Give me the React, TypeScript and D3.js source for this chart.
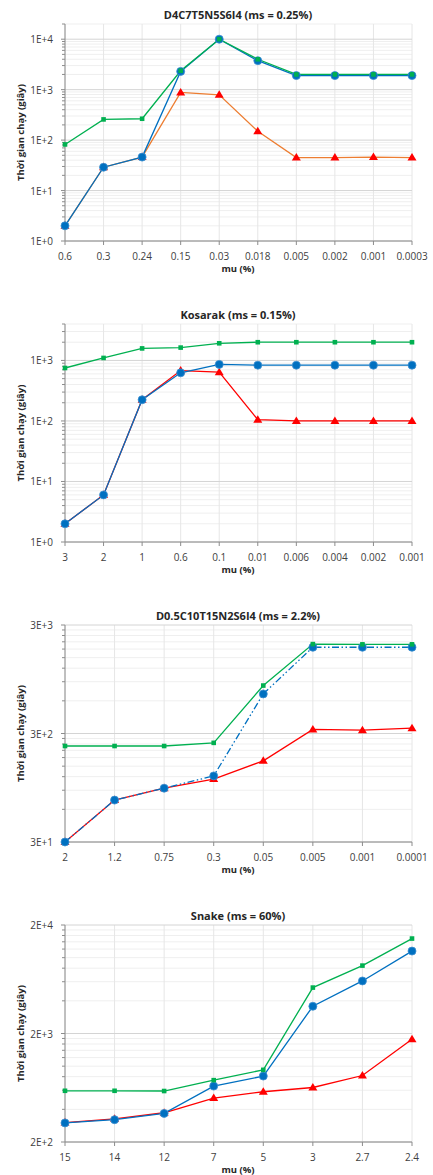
import * as d3 from "d3";
import React from "react";

const cats1 = ["0.6", "0.3", "0.24", "0.15", "0.03", "0.018", "0.005", "0.002", "0.001", "0.0003"];
const blue1 = [2, 29, 46, 2300, 10000, 3750, 1900, 1900, 1900, 1900];
const green1 = [82, 257, 265, 2370, 10000, 4000, 2000, 2000, 2000, 2000];
const red1 = [2, 29, 46, 880, 790, 150, 45, 45, 46, 45];

const cats2 = ["3", "2", "1", "0.6", "0.1", "0.01", "0.006", "0.004", "0.002", "0.001"];
const green2 = [750, 1100, 1580, 1630, 1920, 2000, 2000, 2000, 2000, 2000];
const blue2 = [2, 6, 224, 624, 860, 835, 835, 835, 835, 835];
const red2 = [2, 6, 224, 680, 640, 105, 100, 100, 100, 100];

const cats3 = ["2", "1.2", "0.75", "0.3", "0.05", "0.005", "0.001", "0.0001"];
const green3 = [230, 230, 230, 246, 830, 2000, 1990, 1990];
const blue3 = [30, 73, 94, 122, 695, 1870, 1870, 1870];
const red3 = [30, 73, 94, 114, 168, 327, 322, 336];

const cats4 = ["15", "14", "12", "7", "5", "3", "2.7", "2.4"];
const green4 = [593, 593, 590, 743, 925, 5300, 8450, 15000];
const blue4 = [300, 321, 367, 655, 810, 3565, 6100, 11500];
const red4 = [302, 327, 372, 508, 581, 636, 820, 1770];

const FONT = "'Open Sans', 'DejaVu Sans', sans-serif";
const BLUE = "#0070C0";
const GREEN = "#00B050";
const RED = "#FF0000";

interface PanelProps {
  title: string;
  top: number; // plot top
  bottom: number; // plot bottom
  cats: string[];
  domain: [number, number];
  majors: number[];
  majorLabels: string[];
  blue: number[];
  green: number[];
  red: number[];
  redLine: string;
  blueDash?: string;
}

const left = 65;
const right = 412;

const Panel: React.FC<PanelProps> = (p) => {
  const x = d3.scalePoint<string>().domain(p.cats).range([left, right]);
  const y = d3.scaleLog().domain(p.domain).range([p.bottom, p.top]);

  // minor gridlines at base * 2..9
  const minors: number[] = [];
  p.majors.forEach((m) => {
    for (let k = 2; k <= 9; k++) {
      const v = m * k;
      if (v <= p.domain[1] * 1.0001) minors.push(v);
    }
  });

  const line = d3
    .line<number>()
    .x((_, i) => x(p.cats[i])!)
    .y((d) => y(d));

  const mid = (p.top + p.bottom) / 2;
  const tri = (cx: number, cy: number) => `M${cx},${cy - 4.5}L${cx + 4.5},${cy + 3}L${cx - 4.5},${cy + 3}Z`;

  return (
    <g>
      <text x={238} y={p.top - 10} textAnchor="middle" dominantBaseline="central" fontFamily={FONT} fontSize={11} fontWeight="bold" fill="#262626">
        {p.title}
      </text>
      {/* minor gridlines */}
      {minors.map((v) => (
        <line key={"mi" + v} x1={left} x2={right} y1={y(v)} y2={y(v)} stroke="#efefef" strokeWidth={1} />
      ))}
      {/* vertical gridlines */}
      {p.cats.map((c) => (
        <line key={"vg" + c} x1={x(c)} x2={x(c)} y1={p.top} y2={p.bottom} stroke="#e6e6e6" strokeWidth={1} />
      ))}
      {/* major gridlines */}
      {p.majors.map((v) => (
        <line key={"ma" + v} x1={left} x2={right} y1={y(v)} y2={y(v)} stroke="#d4d4d4" strokeWidth={1} />
      ))}
      {/* axes */}
      <line x1={left} x2={left} y1={p.top} y2={p.bottom} stroke="#8c8c8c" />
      <line x1={left} x2={right} y1={p.bottom} y2={p.bottom} stroke="#8c8c8c" />
      {minors.map((v) => (
        <line key={"mt" + v} x1={left - 3} x2={left} y1={y(v)} y2={y(v)} stroke="#8c8c8c" />
      ))}
      {p.majors.map((v) => (
        <line key={"Mt" + v} x1={left - 4} x2={left} y1={y(v)} y2={y(v)} stroke="#8c8c8c" />
      ))}
      {p.cats.map((c) => (
        <line key={"xt" + c} x1={x(c)} x2={x(c)} y1={p.bottom} y2={p.bottom + 4} stroke="#8c8c8c" />
      ))}
      {p.majors.map((v, i) => (
        <text key={"yl" + v} x={53} y={y(v)} textAnchor="end" dominantBaseline="central" fontFamily={FONT} fontSize={10} fill="#404040">
          {p.majorLabels[i]}
        </text>
      ))}
      {p.cats.map((c) => (
        <text key={"xl" + c} x={x(c)} y={p.bottom + 15} textAnchor="middle" dominantBaseline="central" fontFamily={FONT} fontSize={10} fill="#404040">
          {c}
        </text>
      ))}
      <text x={238} y={p.bottom + 27} textAnchor="middle" dominantBaseline="central" fontFamily={FONT} fontSize={9.5} fontWeight="bold" fill="#262626">
        mu (%)
      </text>
      <text
        transform={`translate(20,${mid}) rotate(-90)`}
        textAnchor="middle"
        dominantBaseline="central"
        fontFamily={FONT}
        fontSize={9.5}
        fontWeight="bold"
        fill="#262626"
      >
        Thời gian chạy (giây)
      </text>
      {/* lines */}
      <path d={line(p.red)!} fill="none" stroke={p.redLine} strokeWidth={1.3} />
      <path d={line(p.blue)!} fill="none" stroke={BLUE} strokeWidth={1.3} strokeDasharray={p.blueDash} />
      <path d={line(p.green)!} fill="none" stroke={GREEN} strokeWidth={1.3} />
      {/* markers */}
      {p.red.map((v, i) => (
        <path key={"r" + i} d={tri(x(p.cats[i])!, y(v))} fill={RED} />
      ))}
      {p.blue.map((v, i) => (
        <circle key={"b" + i} cx={x(p.cats[i])!} cy={y(v)} r={4} fill={BLUE} stroke="#3d8fd1" strokeWidth={0.8} />
      ))}
      {p.green.map((v, i) => (
        <rect key={"g" + i} x={x(p.cats[i])! - 2.3} y={y(v) - 2.3} width={4.6} height={4.6} fill={GREEN} />
      ))}
    </g>
  );
};

export default function App() {
  return (
    <svg width={433} height={1175} style={{ position: "absolute", left: 0, top: 0, background: "#fff" }}>
      <Panel
        title="D4C7T5N5S6I4 (ms = 0.25%)"
        top={24}
        bottom={241}
        cats={cats1}
        domain={[1, 20000]}
        majors={[1, 10, 100, 1000, 10000]}
        majorLabels={["1E+0", "1E+1", "1E+2", "1E+3", "1E+4"]}
        blue={blue1}
        green={green1}
        red={red1}
        redLine="#ED7D31"
      />
      <Panel
        title="Kosarak (ms = 0.15%)"
        top={324}
        bottom={542}
        cats={cats2}
        domain={[1, 4000]}
        majors={[1, 10, 100, 1000]}
        majorLabels={["1E+0", "1E+1", "1E+2", "1E+3"]}
        blue={blue2}
        green={green2}
        red={red2}
        redLine={RED}
      />
      <Panel
        title="D0.5C10T15N2S6I4 (ms = 2.2%)"
        top={625}
        bottom={842}
        cats={cats3}
        domain={[30, 3000]}
        majors={[30, 300, 3000]}
        majorLabels={["3E+1", "3E+2", "3E+3"]}
        blue={blue3}
        green={green3}
        red={red3}
        redLine={RED}
        blueDash="7,2.5,1.5,2.5,1.5,2.5"
      />
      <Panel
        title="Snake (ms = 60%)"
        top={925}
        bottom={1142}
        cats={cats4}
        domain={[200, 20000]}
        majors={[200, 2000, 20000]}
        majorLabels={["2E+2", "2E+3", "2E+4"]}
        blue={blue4}
        green={green4}
        red={red4}
        redLine={RED}
      />
    </svg>
  );
}
